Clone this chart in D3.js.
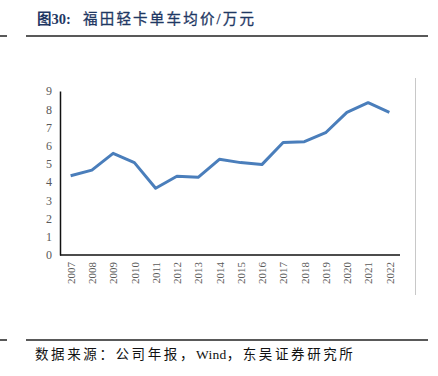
<!DOCTYPE html>
<html>
<head>
<meta charset="utf-8">
<script src="https://cdn.jsdelivr.net/npm/d3@7"></script>
<style>
  body { margin: 0; background: #fff; }
  svg { display: block; }
</style>
</head>
<body>
<svg id="chart" width="438" height="376"></svg>
<script>
// data
const years = ["2007","2008","2009","2010","2011","2012","2013","2014",
               "2015","2016","2017","2018","2019","2020","2021","2022"];
const avgPrice = [4.35, 4.66, 5.58, 5.07, 3.66, 4.32, 4.26, 5.25,
                  5.07, 4.96, 6.17, 6.22, 6.71, 7.83, 8.36, 7.83];
const yTicks = [0, 1, 2, 3, 4, 5, 6, 7, 8, 9];

const svg = d3.select("#chart");
const serif = "'Liberation Serif', 'Times New Roman', 'Noto Sans CJK SC', serif";
const cjk = "'Liberation Serif', 'Noto Sans CJK SC', serif";

// title + rules
const title = svg.append("text")
    .attr("y", 24)
    .attr("fill", "#1f3864")
    .attr("font-family", cjk)
    .attr("font-size", 14.5)
    .attr("font-weight", "bold");
title.append("tspan").attr("x", 37).text("图30:");
title.append("tspan").attr("x", 83).attr("letter-spacing", 2.2).attr("font-weight", "normal")
    .attr("stroke", "#1f3864").attr("stroke-width", 0.3)
    .text("福田轻卡单车均价/万元");

svg.append("line").attr("x1", 0).attr("x2", 7).attr("y1", 36).attr("y2", 36)
    .attr("stroke", "#222").attr("stroke-width", 1.5);
svg.append("line").attr("x1", 26).attr("x2", 428).attr("y1", 36).attr("y2", 36)
    .attr("stroke", "#222").attr("stroke-width", 1.5);

svg.append("line").attr("x1", 0).attr("x2", 7).attr("y1", 340).attr("y2", 340)
    .attr("stroke", "#222").attr("stroke-width", 1.5);
svg.append("line").attr("x1", 26).attr("x2", 428).attr("y1", 340).attr("y2", 340)
    .attr("stroke", "#222").attr("stroke-width", 1.5);

// grey right border of chart area
svg.append("line").attr("x1", 415.5).attr("x2", 415.5).attr("y1", 78).attr("y2", 295)
    .attr("stroke", "#c8c8c8").attr("stroke-width", 1);

// scales
const x = d3.scalePoint().domain(years).range([60, 400]).padding(0.5);
const y = d3.scaleLinear().domain([0, 9]).range([255, 91]);

// y axis
const yAxis = svg.append("g")
    .attr("transform", "translate(60,0)")
    .call(d3.axisLeft(y).tickValues(yTicks).tickSize(0).tickPadding(8));
yAxis.select(".domain").attr("stroke", "#111").attr("stroke-width", 1.5);
yAxis.selectAll("text")
    .attr("fill", "#595959")
    .attr("font-family", serif)
    .attr("font-size", 12);

// x axis
const xAxis = svg.append("g")
    .attr("transform", "translate(0,255)")
    .call(d3.axisBottom(x).tickSize(0).tickPadding(0));
xAxis.select(".domain").attr("d", "M60,0H400").attr("stroke", "#111").attr("stroke-width", 1.5);
xAxis.selectAll("text")
    .attr("fill", "#595959")
    .attr("font-family", serif)
    .attr("font-size", 11)
    .attr("text-anchor", "end")
    .attr("dy", "0.35em")
    .attr("transform", "translate(0,7) rotate(-90)");

// line
const line = d3.line()
    .x((d, i) => x(years[i]))
    .y(d => y(d));

svg.append("path")
    .datum(avgPrice)
    .attr("fill", "none")
    .attr("stroke", "#4a7ebb")
    .attr("stroke-width", 3)
    .attr("stroke-linejoin", "round")
    .attr("d", line);

// source
const src = svg.append("text")
    .attr("x", 35).attr("y", 359)
    .attr("fill", "#111")
    .attr("font-family", cjk)
    .attr("font-size", 13.5);
src.append("tspan").attr("letter-spacing", 2.6).text("数据来源：公司年报，");
src.append("tspan").attr("letter-spacing", 0.3).text("Wind");
src.append("tspan").attr("letter-spacing", 2.6).text("，东吴证券研究所");
</script>
</body>
</html>
